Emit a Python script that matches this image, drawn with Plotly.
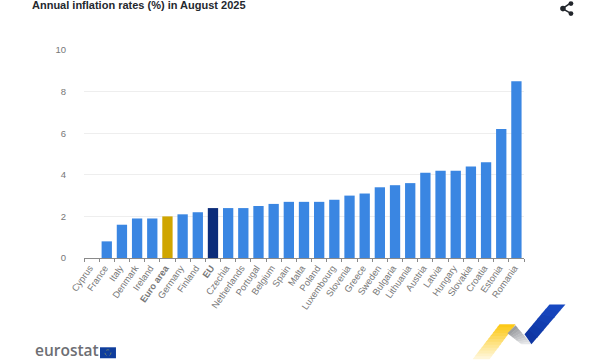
import plotly.graph_objects as go

countries = ["Cyprus", "France", "Italy", "Denmark", "Ireland", "Euro area", "Germany", "Finland", "EU",
             "Czechia", "Netherlands", "Portugal", "Belgium", "Spain", "Malta", "Poland", "Luxembourg",
             "Slovenia", "Greece", "Sweden", "Bulgaria", "Lithuania", "Austria", "Latvia", "Hungary",
             "Slovakia", "Croatia", "Estonia", "Romania"]
rates = [0.0, 0.8, 1.6, 1.9, 1.9, 2.0, 2.1, 2.2, 2.4, 2.4, 2.4, 2.5, 2.6, 2.7, 2.7, 2.7, 2.8,
         3.0, 3.1, 3.4, 3.5, 3.6, 4.1, 4.2, 4.2, 4.4, 4.6, 6.2, 8.5]
highlight = {"Euro area": "#cfa500", "EU": "#0b2c7a"}
base_color = "#3a86e2"
colors = [highlight.get(c, base_color) for c in countries]
tick_text = [f"<b>{c}</b>" if c in highlight else c for c in countries]

FONT = "Liberation Sans, Arial, sans-serif"
W, H = 600, 360
L, R, T, B = 84, 524.5, 50, 258.5
def px(x): return (x - L) / (R - L)
def py(y): return (B - y) / (B - T)

fig = go.Figure(go.Bar(x=countries, y=rates, marker=dict(color=colors, line_width=0), width=0.68,
                       hoverinfo="x+y"))

def poly(points):
    return "M " + " L ".join(f"{px(x):.4f} {py(y):.4f}" for x, y in points) + " Z"

def lerp(a, b, t):
    return (a[0] + (b[0] - a[0]) * t, a[1] + (b[1] - a[1]) * t)

def ribbon(p0, p1, q1, q0, c0, c1, n):
    """Quad from edge p0-q0 to edge p1-q1 in n colour steps (shapes have no gradient fill)."""
    out = []
    for i in range(n):
        t0, t1 = i / n, (i + 1) / n
        t1o = min(1, t1 + 0.02)
        col = tuple(round(c0[k] + (c1[k] - c0[k]) * (i + 0.5) / n) for k in range(3))
        out.append(dict(type="path", xref="paper", yref="paper",
                        path=poly([lerp(p0, p1, t0), lerp(p0, p1, t1o), lerp(q0, q1, t1o), lerp(q0, q1, t0)]),
                        fillcolor=f"rgb{col}", line_width=0))
    return out

shapes = [
    # EU flag
    dict(type="rect", xref="paper", yref="paper", x0=px(100), x1=px(116), y0=py(359), y1=py(348),
         fillcolor="#0f3d9c", line_width=0),
    dict(type="circle", xref="paper", yref="paper", x0=px(105), x1=px(111), y0=py(356.5), y1=py(350.5),
         fillcolor="rgba(0,0,0,0)", line=dict(color="#8f9a5a", width=0.7, dash="dot")),
]
# ribbon logo
shapes += ribbon((473, 360), (500, 325), (516, 325), (490, 360), (255, 248, 225), (252, 199, 15), 12)
shapes += ribbon((508, 334), (522, 345), (532, 345), (516, 326), (150, 152, 156), (235, 236, 238), 8)
shapes += ribbon((532, 345), (566, 305), (550, 305), (525, 335), (14, 52, 160), (24, 74, 196), 6)
# share icon
shapes += [
    dict(type="line", xref="paper", yref="paper", x0=px(571), y0=py(3), x1=px(563), y1=py(8.5),
         line=dict(color="#22262c", width=1.5)),
    dict(type="line", xref="paper", yref="paper", x0=px(563), y0=py(8.5), x1=px(571), y1=py(13),
         line=dict(color="#22262c", width=1.5)),
]
for cx, cy, r in [(571.5, 3.5, 2.4), (563.5, 8.5, 2.8), (571.5, 13.5, 2.4)]:
    shapes.append(dict(type="circle", xref="paper", yref="paper", x0=px(cx - r), x1=px(cx + r),
                       y0=py(cy + r), y1=py(cy - r), fillcolor="#22262c", line_width=0))

annotations = [
    dict(text="Annual inflation rates (%) in August 2025", xref="paper", yref="paper", x=px(32), y=py(5),
         xanchor="left", yanchor="middle", showarrow=False, xshift=-2,
         font=dict(family=FONT, size=11, color="#24282e", weight=600)),
    dict(text="eurostat", xref="paper", yref="paper", x=px(35), y=py(360), xanchor="left", yanchor="bottom",
         showarrow=False, xshift=0, yshift=-2, borderpad=0, borderwidth=0,
         font=dict(family="Open Sans, sans-serif", size=15.5, color="#6d6e73", weight=600)),
]

fig.update_layout(
    width=W, height=H, autosize=False, margin=dict(l=L, r=W - R, t=T, b=H - B),
    paper_bgcolor="white", plot_bgcolor="white", showlegend=False, bargap=0.32,
    font=dict(family=FONT, size=9, color="#666666"),
    shapes=shapes, annotations=annotations,
    xaxis=dict(type="category", categoryorder="array", categoryarray=countries,
               tickmode="array", tickvals=countries, ticktext=tick_text, tickangle=-55,
               tickson="boundaries", ticks="outside", ticklen=3, tickcolor="#8a8a8a", tickwidth=1,
               showline=True, linecolor="#8a8a8a", linewidth=1, showgrid=False, ticklabelshift=-2,
               tickfont=dict(family=FONT, size=9.3, color="#777777")),
    yaxis=dict(range=[0, 10], tickvals=[0, 2, 4, 6, 8, 10], showgrid=True, gridcolor="#eeeeee", gridwidth=1,
               zeroline=False, ticks="", showline=False, ticklabelstandoff=17,
               tickfont=dict(family=FONT, size=9.5, color="#777777")),
)
fig.write_html("out.html", config=dict(displayModeBar=False),
               post_script="document.body.style.margin='0';document.body.style.overflow='hidden';")
